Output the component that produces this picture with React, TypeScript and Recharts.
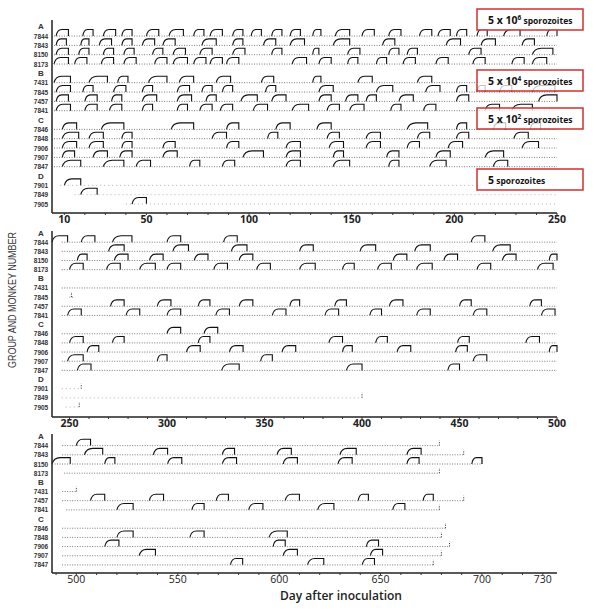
import React from "react";
import { LineChart, Line, XAxis, YAxis, ReferenceArea, ReferenceLine } from "recharts";

type Ep = [number, number];

// ---- panel 1 : days 10-250 ----
const panel1Rows = ["A", "7844", "7843", "8150", "8173", "B", "7431", "7845", "7457", "7841", "C", "7846", "7848", "7906", "7907", "7847", "D", "7901", "7849", "7905"];
const panel1Spans: (Ep | null)[] = [null, [5, 250], [5, 250], [5, 250], [5, 250], null, [5, 250], [5, 250], [5, 250], [5, 250], null, [5, 250], [5, 250], [5, 250], [5, 250], [5, 250], null, [8, 250], [15, 250], [40, 250]];
const panel1Episodes: Ep[][] = [
  [],
  [[6, 12], [19, 24], [29, 35], [38, 43], [50, 56], [61, 68], [73, 78], [81, 87], [92, 97], [101, 106], [111, 116], [120, 125], [131, 135], [142, 149], [155, 161], [168, 174], [183, 189], [192, 198], [201, 206], [211, 216], [224, 232], [245, 250]],
  [[6, 11], [18, 22], [27, 33], [38, 43], [48, 54], [58, 64], [77, 84], [92, 97], [107, 113], [120, 127], [141, 149], [165, 171], [196, 203], [213, 220], [233, 239]],
  [[6, 12], [17, 22], [29, 34], [39, 44], [53, 58], [63, 69], [76, 82], [92, 98], [111, 116], [131, 134], [148, 154], [168, 173], [177, 182], [207, 213], [238, 248]],
  [[5, 12], [15, 21], [28, 34], [39, 45], [54, 60], [63, 70], [73, 79], [81, 87], [89, 95], [121, 128], [134, 140], [148, 153], [162, 167], [175, 181], [191, 197], [209, 215], [228, 234], [238, 245]],
  [],
  [[5, 13], [22, 31], [36, 41], [51, 60], [66, 73], [84, 91], [106, 112], [131, 135], [153, 160], [182, 189]],
  [[6, 13], [19, 24], [34, 40], [48, 53], [65, 71], [77, 82], [87, 92], [108, 113], [134, 141], [162, 170], [186, 193], [201, 206], [211, 215], [222, 228], [238, 249]],
  [[6, 12], [20, 26], [33, 38], [48, 55], [65, 72], [79, 84], [96, 104], [111, 118], [134, 140], [147, 153], [157, 162], [173, 180], [201, 207], [241, 250]],
  [[6, 13], [20, 26], [32, 38], [48, 53], [65, 70], [76, 82], [86, 92], [102, 109], [121, 129], [138, 144], [149, 156], [169, 174], [185, 191], [215, 222], [228, 238]],
  [],
  [[9, 16], [28, 39], [62, 73], [89, 95], [113, 120], [133, 140], [177, 187], [201, 206], [219, 225], [237, 242]],
  [[9, 17], [22, 29], [38, 43], [82, 89], [109, 114], [138, 144], [157, 164], [182, 188], [201, 207], [229, 236]],
  [[9, 16], [22, 29], [38, 43], [58, 64], [89, 95], [118, 125], [139, 146], [157, 164], [177, 183], [197, 204], [233, 241]],
  [[9, 15], [24, 31], [37, 43], [58, 65], [97, 107], [118, 125], [141, 146], [167, 173], [191, 198], [215, 224]],
  [[9, 18], [29, 39], [45, 52], [71, 76], [87, 93], [118, 125], [141, 149], [168, 173], [188, 196], [219, 226]],
  [],
  [[10, 18]],
  [[18, 26]],
  [[43, 50]],
];
const panel1Ticks = [10, 20, 30, 40, 50, 60, 70, 80, 90, 100, 110, 120, 130, 140, 150, 160, 170, 180, 190, 200, 210, 220, 230, 240, 250];
const panel1Labels = [10, 50, 100, 150, 200, 250];

// ---- panel 2 : days 250-500 ----
const panel2Rows = panel1Rows;
const panel2Spans: (Ep | null)[] = [null, [246, 500], [246, 500], [246, 500], [246, 500], null, [246, 500], [250, 252], [246, 500], [246, 500], null, [246, 500], [246, 500], [246, 500], [246, 500], [246, 500], null, [246, 256], [246, 400], [248, 255]];
const panel2Episodes: Ep[][] = [
  [],
  [[241, 249], [256, 263], [272, 282], [300, 307], [329, 336], [456, 463]],
  [[270, 278], [303, 311], [333, 341], [368, 375], [399, 407], [427, 435], [467, 476]],
  [[254, 259], [273, 280], [291, 298], [314, 321], [337, 344], [416, 423], [442, 449], [472, 479], [496, 500]],
  [[250, 257], [269, 276], [286, 294], [300, 307], [324, 331], [346, 353], [368, 376], [390, 396], [408, 415], [428, 436], [459, 466], [490, 498]],
  [],
  [],
  [],
  [[271, 278], [295, 302], [316, 322], [337, 344], [363, 368], [386, 392], [414, 421], [450, 456], [486, 492]],
  [[249, 256], [279, 286], [300, 307], [325, 332], [354, 361], [381, 388], [404, 410], [428, 435], [457, 464], [492, 499]],
  [],
  [[300, 307], [319, 326]],
  [[250, 257], [272, 278], [316, 322], [383, 390], [407, 413], [449, 455], [484, 491]],
  [[259, 265], [310, 317], [332, 339], [359, 366], [390, 395], [418, 425], [448, 454], [496, 500]],
  [[249, 257], [295, 300], [348, 354], [457, 464]],
  [[254, 261], [328, 337], [392, 400], [444, 450]],
  [],
  [],
  [],
  [],
];
const panel2Marks: [string, number][] = [["7845", 251], ["7901", 256], ["7849", 400], ["7905", 255]];
const panel2Ticks = [250, 260, 270, 280, 290, 300, 310, 320, 330, 340, 350, 360, 370, 380, 390, 400, 410, 420, 430, 440, 450, 460, 470, 480, 490, 500];
const panel2Labels = [250, 300, 350, 400, 450, 500];

// ---- panel 3 : days 500-730 ----
const panel3Rows = ["A", "7844", "7843", "8150", "8173", "B", "7431", "7457", "7841", "C", "7846", "7848", "7906", "7907", "7847"];
const panel3Spans: (Ep | null)[] = [null, [493, 679], [493, 691], [488, 700], [494, 679], null, [493, 500], [493, 691], [495, 679], null, [493, 682], [493, 680], [493, 684], [493, 680], [493, 676]];
const panel3Episodes: Ep[][] = [
  [],
  [[500, 507]],
  [[504, 513], [538, 545], [572, 578], [599, 606], [630, 638], [663, 670]],
  [[488, 497], [514, 519], [545, 552], [572, 579], [602, 609], [629, 636], [663, 669], [695, 700]],
  [],
  [],
  [],
  [[507, 514], [536, 543], [569, 575], [603, 610], [639, 644], [671, 676]],
  [[520, 528], [557, 563], [585, 592], [619, 627], [656, 662]],
  [],
  [],
  [[520, 528], [556, 563], [595, 604]],
  [[514, 521], [597, 603], [643, 649]],
  [[531, 539], [602, 609], [645, 651]],
  [[576, 582], [614, 622], [641, 647]],
];
const panel3Marks: [string, number][] = [["7844", 679], ["7843", 691], ["8150", 700], ["8173", 679], ["7431", 500], ["7457", 691], ["7841", 679], ["7846", 682], ["7848", 680], ["7906", 684], ["7907", 680], ["7847", 676]];
const panel3Ticks = [490, 500, 510, 520, 530, 540, 550, 560, 570, 580, 590, 600, 610, 620, 630, 640, 650, 660, 670, 680, 690, 700, 710, 720, 730];
const panel3Labels = [500, 550, 600, 650, 700, 730];

const doseLabels = [
  { exp: "6", top: 9 },
  { exp: "4", top: 70 },
  { exp: "2", top: 108 },
  { exp: "", top: 169 },
];

const EpisodeShape = (p: any) => {
  const { x, y, width: w, height: h } = p;
  if (!isFinite(x) || !isFinite(w)) return <g />;
  const b = y + h;
  const k = Math.min(w * 0.45, 9);
  const d = `M${x},${b} C${x + k * 0.15},${y + h * 0.25} ${x + k * 0.45},${y} ${x + k},${y} L${x + w},${y} L${x + w},${b}`;
  return <path d={d} fill="none" stroke="#111" strokeWidth={1.1} />;
};

const RowTick = (p: any) => {
  const { y, payload, rows } = p;
  const name: string = rows[payload.value];
  if (!name) return <g />;
  const group = name.length === 1;
  return (
    <text x={41} y={y} dy={2.5} textAnchor="middle" fontSize={group ? 8 : 6.5} fontWeight={700} fill="#333" fontFamily="Liberation Sans, Arial, sans-serif">
      {name}
    </text>
  );
};

type PanelProps = {
  rows: string[];
  spans: (Ep | null)[];
  episodes: Ep[][];
  marks: [string, number][];
  xDomain: [number, number];
  yDomain: [number, number];
  ticks: number[];
  labels: number[];
  plotTop: number;
  plotBottom: number;
  bold: boolean;
};

function Panel({ rows, spans, episodes, marks, xDomain, yDomain, ticks, labels, plotTop, plotBottom, bold }: PanelProps) {
  const dIndex = rows.indexOf("D");
  return (
    <div style={{ position: "absolute", left: 0, top: 0 }}>
      <LineChart width={600} height={613} margin={{ top: plotTop, right: 43, bottom: 613 - plotBottom - 20, left: 0 }}>
        <XAxis
          type="number"
          dataKey="day"
          domain={xDomain}
          allowDataOverflow
          ticks={ticks}
          interval={0}
          height={20}
          tickSize={2}
          tickMargin={1}
          tickFormatter={(v: number) => (labels.includes(v) ? String(v) : "")}
          axisLine={{ stroke: "#222", strokeWidth: 1.5 }}
          tickLine={{ stroke: "#333" }}
          tick={{ fontSize: 10.5, fill: "#222", fontWeight: bold ? 700 : 400, fontFamily: "Open Sans, sans-serif" }}
        />
        <YAxis
          type="number"
          domain={yDomain}
          reversed
          allowDataOverflow
          ticks={rows.map((_, i) => i)}
          interval={0}
          width={52}
          axisLine={{ stroke: "#222", strokeWidth: 1.5 }}
          tickLine={false}
          tick={(tp: any) => <RowTick {...tp} rows={rows} />}
        />
        {spans.map((s, i) =>
          s ? (
            <Line
              key={"base" + i}
              data={[{ day: s[0], v: i }, { day: s[1], v: i }]}
              dataKey="v"
              stroke={dIndex >= 0 && i > dIndex ? "#b0b0b0" : "#7a7a7a"}
              strokeWidth={1}
              strokeDasharray={dIndex >= 0 && i > dIndex ? "1 3" : "1 1.5"}
              dot={false}
              isAnimationActive={false}
            />
          ) : null
        )}
        {episodes.flatMap((eps, i) =>
          eps.map((e, j) => (
            <ReferenceArea key={`ep${i}-${j}`} x1={e[0]} x2={e[1]} y1={i} y2={i - 0.7} ifOverflow="visible" shape={EpisodeShape} />
          ))
        )}
        {marks.map(([name, day]) => {
          const i = rows.indexOf(name);
          return (
            <ReferenceLine
              key={"m" + name}
              segment={[{ x: day, y: i }, { x: day, y: i - 0.55 }]}
              stroke="#444"
              strokeDasharray="1.2 1.2"
              ifOverflow="visible"
            />
          );
        })}
      </LineChart>
    </div>
  );
}

export default function App() {
  return (
    <div style={{ position: "absolute", left: 0, top: 0, width: 600, height: 613, background: "#fff" }}>
      <Panel rows={panel1Rows} spans={panel1Spans} episodes={panel1Episodes} marks={[]} xDomain={[4, 250]} yDomain={[-0.72, 19.96]} ticks={panel1Ticks} labels={panel1Labels} plotTop={20} plotBottom={213} bold />
      <Panel rows={panel2Rows} spans={panel2Spans} episodes={panel2Episodes} marks={panel2Marks} xDomain={[241, 500]} yDomain={[-0.22, 20.09]} ticks={panel2Ticks} labels={panel2Labels} plotTop={231} plotBottom={417} bold />
      <Panel rows={panel3Rows} spans={panel3Spans} episodes={panel3Episodes} marks={panel3Marks} xDomain={[488, 737]} yDomain={[-0.27, 14.88]} ticks={panel3Ticks} labels={panel3Labels} plotTop={434} plotBottom={573} bold={false} />
      <svg width={600} height={613} style={{ position: "absolute", left: 0, top: 0, pointerEvents: "none" }}>
        <text
          transform="translate(16,300) rotate(-90)"
          textAnchor="middle"
          fontSize={10.5}
          fill="#333"
          fontFamily="Liberation Sans, Arial, sans-serif"
          textLength={136}
          lengthAdjust="spacingAndGlyphs"
        >
          GROUP AND MONKEY NUMBER
        </text>
        <text x={341} y={600} textAnchor="middle" fontSize={12} fontWeight={600} fill="#222" fontFamily="Open Sans, sans-serif" textLength={122} lengthAdjust="spacingAndGlyphs">
          Day after inoculation
        </text>
        {doseLabels.map((d) => (
          <g key={d.top}>
            <rect x={477} y={d.top} width={106} height={21} fill="#fff" fillOpacity={0.75} stroke="#d0302f" strokeWidth={1.5} />
            <text x={488} y={d.top + 14.5} fill="#111" fontFamily="Open Sans, sans-serif" fontWeight={700}>
              {d.exp ? (
                <>
                  <tspan fontSize={10.5}>5 x 10</tspan>
                  <tspan fontSize={6.5} dy={-4}>{d.exp}</tspan>
                  <tspan fontSize={8.5} dy={4}> sporozoites</tspan>
                </>
              ) : (
                <>
                  <tspan fontSize={10.5}>5</tspan>
                  <tspan fontSize={8.5}> sporozoites</tspan>
                </>
              )}
            </text>
          </g>
        ))}
      </svg>
    </div>
  );
}
